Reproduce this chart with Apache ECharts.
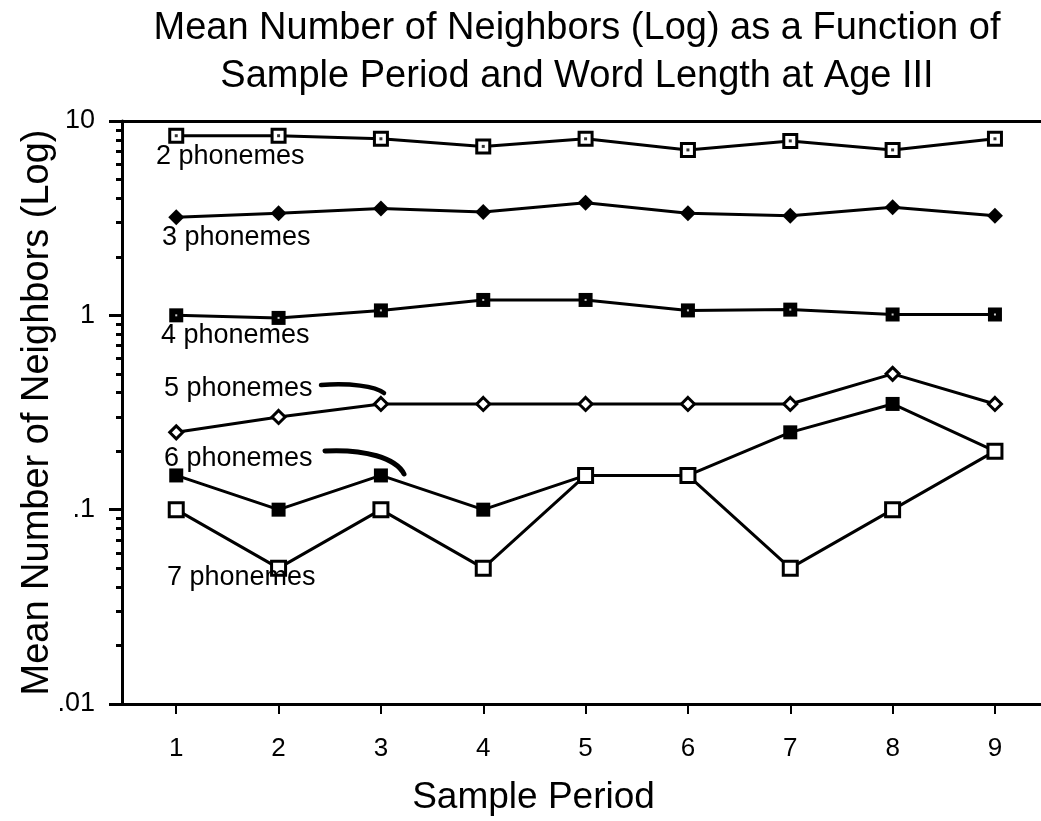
<!DOCTYPE html>
<html>
<head>
<meta charset="utf-8">
<title>Mean Number of Neighbors (Log)</title>
<script src="https://cdn.jsdelivr.net/npm/echarts@6/dist/echarts.min.js"></script>
<style>
  html, body { margin: 0; padding: 0; background: #fff; }
  #chart { width: 1041px; height: 821px; }
</style>
</head>
<body>
<div id="chart"></div>
<script>
// Sample periods (x) and mean number of neighbours per word length (log y)
const periods = [1, 2, 3, 4, 5, 6, 7, 8, 9];
const twoPhonemes   = [8.4, 8.4, 8.1, 7.4, 8.1, 7.1, 7.9, 7.1, 8.1];
const threePhonemes = [3.2, 3.35, 3.55, 3.4, 3.8, 3.35, 3.25, 3.6, 3.25];
const fourPhonemes  = [1.0, 0.97, 1.06, 1.2, 1.2, 1.06, 1.07, 1.01, 1.01];
const fivePhonemes  = [0.25, 0.3, 0.35, 0.35, 0.35, 0.35, 0.35, 0.5, 0.35];
const sixPhonemes   = [0.15, 0.1, 0.15, 0.1, 0.15, 0.15, 0.25, 0.35, 0.2];
const sevenPhonemes = [0.1, 0.05, 0.1, 0.05, 0.15, 0.15, 0.05, 0.1, 0.2];

const seriesNames = ['2 phonemes', '3 phonemes', '4 phonemes', '5 phonemes', '6 phonemes', '7 phonemes'];
const xTickLabels = ['1', '2', '3', '4', '5', '6', '7', '8', '9'];
const yTickLabels = ['.01', '.1', '1', '10'];   // decades 10^-2 .. 10^1
const minorMultiples = [2, 3, 4, 5, 6, 7, 8, 9];

const titleText = 'Mean Number of Neighbors (Log) as a Function of\nSample Period and Word Length at Age III';
const xName = 'Sample Period';
const yName = 'Mean Number of Neighbors (Log)';

const FONT = '"Liberation Sans", Arial, Helvetica, sans-serif';
const INK = '#000';
const LW = 3;

const pairs = vals => periods.map((p, i) => [p, vals[i]]);

// minor tick positions in log10 space for the helper axis
const minorTicks = [];
for (let d = -2; d <= 0; d++) {
  minorMultiples.forEach(m => minorTicks.push(Math.log10(m * Math.pow(10, d))));
}

function lineSeries(name, vals, symbol, size, fill) {
  return {
    name: name,
    type: 'line',
    data: pairs(vals),
    symbol: symbol,
    symbolSize: size,
    showAllSymbol: true,
    lineStyle: { color: INK, width: LW },
    itemStyle: { color: fill, borderColor: INK, borderWidth: fill === INK ? 0 : 3 },
    emphasis: { disabled: true },
    z: 3
  };
}

function dotSeries(vals, color, size) {
  return {
    type: 'scatter',
    data: pairs(vals),
    symbol: 'rect',
    symbolSize: size,
    itemStyle: { color: color },
    silent: true,
    z: 5
  };
}

const chart = echarts.init(document.getElementById('chart'), null, { renderer: 'canvas' });

chart.setOption({
  animation: false,
  backgroundColor: '#fff',
  title: {
    text: titleText,
    left: 572,
    top: 0,
    textAlign: 'center',
    textStyle: { fontFamily: FONT, fontSize: 38, fontWeight: 'normal', color: INK, lineHeight: 48 }
  },
  grid: { left: 122, right: 0, top: 121, bottom: 116, containLabel: false },
  xAxis: [
    {
      type: 'value',
      min: 0.47,
      max: 9.45,
      name: xName,
      nameLocation: 'middle',
      nameGap: 75,
      nameMoveOverlap: false,
      nameTextStyle: { fontFamily: FONT, fontSize: 37, color: INK, padding: [0, 96, 0, 0] },
      axisLine: { show: true, onZero: false, lineStyle: { color: INK, width: LW } },
      axisTick: { show: true, customValues: periods, length: 10, lineStyle: { color: INK, width: 2 } },
      axisLabel: {
        customValues: periods,
        formatter: v => xTickLabels[periods.indexOf(Math.round(v))],
        margin: 32,
        fontFamily: FONT, fontSize: 26, color: INK
      },
      splitLine: { show: false }
    },
    {
      type: 'value',
      position: 'top',
      min: 0,
      max: 1,
      axisLine: { show: true, onZero: false, lineStyle: { color: INK, width: LW } },
      axisTick: { show: false },
      axisLabel: { show: false },
      splitLine: { show: false }
    }
  ],
  yAxis: [
    {
      type: 'log',
      logBase: 10,
      min: 0.01,
      max: 10,
      name: yName,
      nameLocation: 'middle',
      nameGap: 65,
      nameMoveOverlap: false,
      nameRotate: 90,
      nameTextStyle: { fontFamily: FONT, fontSize: 38, color: INK },
      axisLine: { show: true, onZero: false, lineStyle: { color: INK, width: 3 } },
      axisTick: { show: true, length: 13, lineStyle: { color: INK, width: LW } },
      axisLabel: {
        formatter: v => yTickLabels[Math.round(Math.log10(v)) + 2],
        margin: 27,
        fontFamily: FONT, fontSize: 27, color: INK
      },
      splitLine: { show: false },
      z: 4
    },
    {
      // helper axis in log10 space carrying the minor ticks
      type: 'value',
      position: 'left',
      min: -2,
      max: 1,
      axisLine: { show: false, onZero: false },
      axisTick: { show: true, customValues: minorTicks, length: 6, lineStyle: { color: INK, width: LW } },
      axisLabel: { show: false },
      splitLine: { show: false }
    }
  ],
  series: [
    lineSeries(seriesNames[0], twoPhonemes, 'rect', 13, '#fff'),
    dotSeries(twoPhonemes, INK, 3),
    lineSeries(seriesNames[1], threePhonemes, 'diamond', 16, INK),
    lineSeries(seriesNames[2], fourPhonemes, 'rect', 14, INK),
    dotSeries(fourPhonemes, '#fff', 2),
    lineSeries(seriesNames[3], fivePhonemes, 'diamond', 13, '#fff'),
    lineSeries(seriesNames[4], sixPhonemes, 'rect', 14, INK),
    lineSeries(seriesNames[5], sevenPhonemes, 'rect', 14, '#fff')
  ],
  graphic: [
    { type: 'text', z: 10, style: { x: 156, y: 157, text: seriesNames[0], font: '27px ' + FONT, fill: INK, verticalAlign: 'middle' } },
    { type: 'text', z: 10, style: { x: 162, y: 238, text: seriesNames[1], font: '27px ' + FONT, fill: INK, verticalAlign: 'middle' } },
    { type: 'text', z: 10, style: { x: 161, y: 336, text: seriesNames[2], font: '27px ' + FONT, fill: INK, verticalAlign: 'middle' } },
    { type: 'text', z: 10, style: { x: 164, y: 389, text: seriesNames[3], font: '27px ' + FONT, fill: INK, verticalAlign: 'middle' } },
    { type: 'text', z: 10, style: { x: 164, y: 459, text: seriesNames[4], font: '27px ' + FONT, fill: INK, verticalAlign: 'middle' } },
    { type: 'text', z: 10, style: { x: 167, y: 578, text: seriesNames[5], font: '27px ' + FONT, fill: INK, verticalAlign: 'middle' } },
    // leader strokes from the 5- and 6-phoneme labels
    {
      type: 'bezierCurve', z: 10,
      shape: { x1: 321, y1: 385, cpx1: 350, cpy1: 383, cpx2: 375, cpy2: 386, x2: 384, y2: 393 },
      style: { stroke: INK, lineWidth: 4.5, lineCap: 'round', fill: null }
    },
    {
      type: 'bezierCurve', z: 10,
      shape: { x1: 325, y1: 451, cpx1: 365, cpy1: 449, cpx2: 396, cpy2: 458, x2: 404, y2: 474 },
      style: { stroke: INK, lineWidth: 5, lineCap: 'round', fill: null }
    }
  ]
});
</script>
</body>
</html>
